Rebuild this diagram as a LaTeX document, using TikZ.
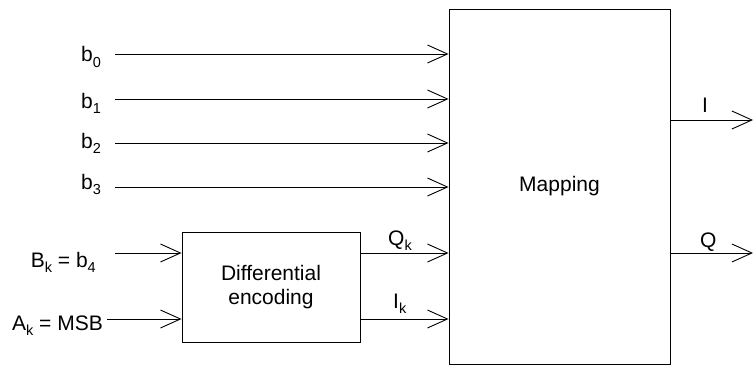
\documentclass[tikz,border=0pt]{standalone}
\usepackage{fontspec}
\setmainfont{Liberation Sans}
\usetikzlibrary{arrows.meta}
\newcommand{\idx}[1]{\raisebox{-5pt}{\fontsize{14.5}{14.5}\selectfont #1}}

\begin{document}
\begin{tikzpicture}[
  x=1pt, y=1pt,
  font=\fontsize{21}{24}\selectfont,
  >={Straight Barb[length=20pt,width=18pt]},
  box/.style={draw, line width=0.9pt, inner sep=0pt, align=center},
  sig/.style={->, line width=0.9pt},
  lab/.style={anchor=base west, inner sep=0pt},
]
\useasboundingbox (0,0) rectangle (754,365);

% ---- blocks
\node[box, minimum width=221pt, minimum height=355pt] (map) at (559.5,178.5) {Mapping};
\node[box, minimum width=178pt, minimum height=110pt] (diff) at (271,78) {Differential\\encoding};

% ---- input labels
\node[lab] (lb0) at (81,303) {b\idx{0}};
\node[lab] (lb1) at (81,257) {b\idx{1}};
\node[lab] (lb2) at (81,217) {b\idx{2}};
\node[lab] (lb3) at (81,176) {b\idx{3}};
\node[lab, anchor=base east] (lbk) at (96,98)  {B\idx{k} = b\idx{4}};
\node[lab, anchor=base east] (lak) at (103,35) {A\idx{k} = MSB};

% ---- signal rows
\coordinate (s0) at (115,311);
\coordinate (s1) at (115,266);
\coordinate (s2) at (115,222);
\coordinate (s3) at (115,178);
\coordinate (rowQ) at (115,112);
\coordinate (rowI) at (107,46);
\coordinate (outI) at (753,245);
\coordinate (outQ) at (753,112);

% ---- direct bits into the mapper
\draw[sig] (s0) -- (s0 -| map.west);
\draw[sig] (s1) -- (s1 -| map.west);
\draw[sig] (s2) -- (s2 -| map.west);
\draw[sig] (s3) -- (s3 -| map.west);

% ---- differential encoder
\draw[sig] (rowQ) -- (rowQ -| diff.west);
\draw[sig] (rowI) -- (rowI -| diff.west);
\draw[sig] (rowQ -| diff.east) -- (rowQ -| map.west);
\draw[sig] (rowI -| diff.east) -- (rowI -| map.west);
\node[lab] (lqk) at (388,120) {Q\idx{k}};
\node[lab] (lik) at (393,57)  {I\idx{k}};

% ---- outputs
\draw[sig] (outI -| map.east) -- (outI);
\draw[sig] (outQ -| map.east) -- (outQ);
\node[lab] (li) at (702,253) {I};
\node[lab] (lq) at (700,118) {Q};
\end{tikzpicture}
\end{document}
